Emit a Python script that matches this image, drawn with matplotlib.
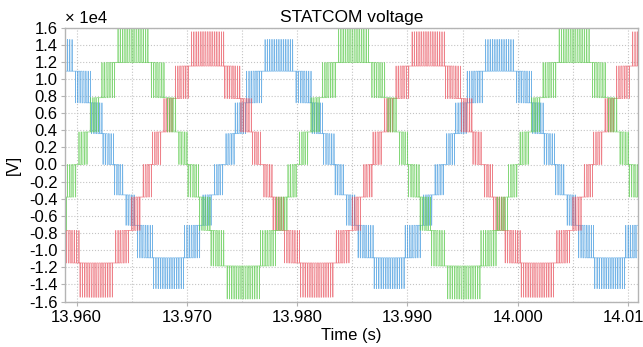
import numpy as np
import matplotlib
matplotlib.use("Agg")
import matplotlib.pyplot as plt
from matplotlib.ticker import FuncFormatter, MultipleLocator

plt.rcParams['font.family'] = ['Liberation Sans', 'DejaVu Sans']

# ---- data ----
phases = ["A", "B", "C"]
colors = ["#e8505c", "#55c845", "#3d97de"]          # red, green, blue
peak_times = [13.9718, 13.9651, 13.95834]            # time of positive peak (s)
mod_index = [0.85, 0.85, 0.83]                       # modulation index
freq_hz = 50.0
carrier_hz = 4800.0
# output levels (V) for level index -4..4 of each phase (9-level cascaded H-bridge)
levels_red = [-15500, -11500, -7700, -3800, 0, 3800, 7700, 11500, 15500]
levels_green = [-15700, -11850, -7700, -3800, 0, 3800, 7800, 11900, 16000]
levels_blue = [-14500, -10900, -7100, -3550, 0, 3600, 7200, 10900, 14600]
levels_all = [levels_red, levels_green, levels_blue]

t_start, t_end = 13.9589, 14.0109
x_major = [13.960, 13.970, 13.980, 13.990, 14.000, 14.010]
y_ticks = [-16000, -14000, -12000, -10000, -8000, -6000, -4000, -2000, 0,
           2000, 4000, 6000, 8000, 10000, 12000, 14000, 16000]

# ---- build the PWM waveforms ----
t = np.arange(t_start - 0.0005, t_end + 0.0005, 4e-7)
ph = (t * carrier_hz) % 1.0
carrier = np.where(ph < 0.5, 2 * ph, 2 - 2 * ph)

fig = plt.figure(figsize=(6.43, 3.47), dpi=100)
ax = fig.add_axes([64.5 / 643, 1 - 301.5 / 347, (638 - 64.5) / 643, (301.5 - 27.5) / 347])

order = [2, 0, 1]
for i in order:
    lv = np.array(levels_all[i], dtype=float)
    r = 4 * mod_index[i] * np.cos(2 * np.pi * freq_hz * (t - peak_times[i]))
    k = np.floor(r)
    frac = r - k
    idx = (k + (frac > carrier)).astype(int) + 4
    idx = np.clip(idx, 0, 8)
    v = lv[idx]
    ax.plot(t, v, color=colors[i], lw=0.5, alpha=0.72, antialiased=True)

ax.set_xlim(t_start, t_end)
ax.set_ylim(-16000, 16000)
ax.set_xticks(x_major)
ax.xaxis.set_minor_locator(MultipleLocator(0.005))
ax.set_xticklabels([f"{x:.3f}" for x in x_major])
ax.set_yticks(y_ticks)
ax.yaxis.set_major_formatter(FuncFormatter(lambda v, p: f"{v / 1e4:.1f}".replace("\u2212", "-")))

ax.grid(True, which='major', axis='both', color='#c4c4c4', linestyle=':', linewidth=0.8)
ax.grid(True, which='minor', axis='x', color='#c4c4c4', linestyle=':', linewidth=0.8)
ax.set_axisbelow(True)
for s in ax.spines.values():
    s.set_color('#b4b4b4')
    s.set_linewidth(1.0)
ax.tick_params(axis='both', which='major', labelsize=12, length=3, width=0.8,
               color='#b4b4b4', direction='out', pad=3)
ax.tick_params(axis='x', which='minor', length=0)
ax.tick_params(axis='y', pad=2)

ax.set_title("STATCOM voltage", fontsize=12.5, pad=4)
fig.text(65 / 643, 1 - 23 / 347, "\u00d7 1e4", fontsize=12, ha='left', va='baseline')
fig.text(13.5 / 643, 1 - 165 / 347, "[V]", fontsize=12, rotation=90, ha='center', va='center')
fig.text(351 / 643, 1 - 335.5 / 347, "Time (s)", fontsize=12, ha='center', va='center')

fig.savefig("out.png", dpi=100)
